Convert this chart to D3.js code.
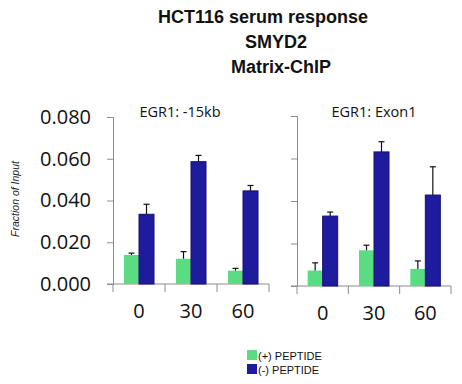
<!DOCTYPE html>
<html>
<head>
<meta charset="utf-8">
<script src="https://cdn.jsdelivr.net/npm/d3@7"></script>
<style>
  body { margin: 0; background: #fff; }
  svg { display: block; }
</style>
</head>
<body>
<svg id="chart" width="462" height="384"></svg>
<script>
const timepoints = ["0", "30", "60"];
const seriesNames = ["(+) PEPTIDE", "(-) PEPTIDE"];
const seriesColors = ["#5cdc82", "#1e1b9e"];
const yTicks = [0, 0.02, 0.04, 0.06, 0.08];

// EGR1: -15kb
const minus15Plus = [0.0139, 0.0121, 0.0064];
const minus15PlusErr = [0.0009, 0.0034, 0.0011];
const minus15Minus = [0.0334, 0.0586, 0.0446];
const minus15MinusErr = [0.0048, 0.0030, 0.0026];

// EGR1: Exon1
const exon1Plus = [0.0073, 0.0168, 0.0080];
const exon1PlusErr = [0.0036, 0.0024, 0.0038];
const exon1Minus = [0.0329, 0.0631, 0.0428];
const exon1MinusErr = [0.0019, 0.0048, 0.0133];

const panels = [
  { title: "EGR1: -15kb", titleX: 180, x0: 113, x1: 269, y0: 284, y1: 117, showLabels: true,
    values: [minus15Plus, minus15Minus], errs: [minus15PlusErr, minus15MinusErr] },
  { title: "EGR1: Exon1", titleX: 374, x0: 297, x1: 451, y0: 286, y1: 116, showLabels: false,
    values: [exon1Plus, exon1Minus], errs: [exon1PlusErr, exon1MinusErr] }
];

const svg = d3.select("#chart");
const axisColor = "#8c8c8c";

// titles
const titleLines = [
  { text: "HCT116 serum response", x: 263, y: 23 },
  { text: "SMYD2", x: 276, y: 48 },
  { text: "Matrix-ChIP", x: 281, y: 73 }
];
svg.selectAll("text.title")
  .data(titleLines)
  .join("text")
  .attr("class", "title")
  .attr("x", d => d.x)
  .attr("y", d => d.y)
  .attr("text-anchor", "middle")
  .attr("font-family", "Liberation Sans, Arial, sans-serif")
  .attr("font-weight", "bold")
  .attr("font-size", 18)
  .attr("fill", "#111")
  .text(d => d.text);

svg.append("text")
  .attr("transform", "translate(19,199) rotate(-90)")
  .attr("text-anchor", "middle")
  .attr("font-family", "Liberation Sans, Arial, sans-serif")
  .attr("font-style", "italic")
  .attr("font-size", 10.5)
  .attr("fill", "#222")
  .text("Fraction of Input");

panels.forEach(panel => {
  const g = svg.append("g");
  const y = d3.scaleLinear().domain([0, 0.08]).range([panel.y0, panel.y1]);
  const x = d3.scaleBand().domain(timepoints).range([panel.x0, panel.x1]).paddingInner(0).paddingOuter(0);
  const sub = d3.scaleBand().domain(d3.range(seriesNames.length))
    .range([x.bandwidth() / 2 - 15, x.bandwidth() / 2 + 15]);

  // y axis
  const yAxis = d3.axisLeft(y).tickValues(yTicks).tickSize(6).tickPadding(16)
    .tickFormat(d3.format(".3f"));
  const yg = g.append("g").attr("transform", `translate(${panel.x0},0)`).call(yAxis);
  yg.select(".domain").attr("stroke", axisColor);
  yg.selectAll(".tick line").attr("stroke", axisColor);
  yg.selectAll(".tick text")
    .attr("font-family", "Open Sans, sans-serif")
    .attr("font-size", 20)
    .attr("fill", "#111")
    .attr("visibility", panel.showLabels ? "visible" : "hidden");

  // x axis: ticks at category boundaries
  g.append("line")
    .attr("x1", panel.x0 - 6).attr("x2", panel.x1)
    .attr("y1", panel.y0).attr("y2", panel.y0)
    .attr("stroke", axisColor);
  const bounds = timepoints.map(t => x(t)).concat([panel.x1]);
  g.selectAll("line.xtick")
    .data(bounds)
    .join("line")
    .attr("class", "xtick")
    .attr("x1", d => d).attr("x2", d => d)
    .attr("y1", panel.y0).attr("y2", panel.y0 + 8)
    .attr("stroke", axisColor);
  g.selectAll("text.xlabel")
    .data(timepoints)
    .join("text")
    .attr("class", "xlabel")
    .attr("x", d => x(d) + x.bandwidth() / 2)
    .attr("y", panel.y0 + 34)
    .attr("text-anchor", "middle")
    .attr("font-family", "Open Sans, sans-serif")
    .attr("font-size", 20)
    .attr("fill", "#111")
    .text(d => d);

  // panel title
  g.append("text")
    .attr("x", panel.titleX)
    .attr("y", 117)
    .attr("text-anchor", "middle")
    .attr("font-family", "Open Sans, sans-serif")
    .attr("font-size", 14.5)
    .attr("fill", "#111")
    .text(panel.title);

  // bars + error bars
  seriesNames.forEach((name, si) => {
    const rows = timepoints.map((t, i) => ({ t, v: panel.values[si][i], e: panel.errs[si][i] }));
    g.selectAll(`rect.s${si}`)
      .data(rows)
      .join("rect")
      .attr("class", `s${si}`)
      .attr("x", d => x(d.t) + sub(si))
      .attr("width", sub.bandwidth())
      .attr("y", d => y(d.v))
      .attr("height", d => y(0) - y(d.v))
      .attr("fill", seriesColors[si])
      .attr("stroke", si === 1 ? "#12116e" : "none")
      .attr("stroke-width", 1);
    const cx = d => x(d.t) + sub(si) + sub.bandwidth() / 2;
    g.selectAll(`line.e${si}`)
      .data(rows)
      .join("line")
      .attr("class", `e${si}`)
      .attr("x1", cx).attr("x2", cx)
      .attr("y1", d => y(d.v)).attr("y2", d => y(d.v + d.e))
      .attr("stroke", "#111").attr("stroke-width", 1.2);
    g.selectAll(`line.c${si}`)
      .data(rows)
      .join("line")
      .attr("class", `c${si}`)
      .attr("x1", d => cx(d) - 3).attr("x2", d => cx(d) + 3)
      .attr("y1", d => y(d.v + d.e)).attr("y2", d => y(d.v + d.e))
      .attr("stroke", "#111").attr("stroke-width", 1.2);
  });
});

// legend
const legend = svg.append("g").attr("transform", "translate(247,350)");
const items = legend.selectAll("g")
  .data(seriesNames)
  .join("g")
  .attr("transform", (d, i) => `translate(0,${i * 14})`);
items.append("rect")
  .attr("width", 10).attr("height", 10)
  .attr("fill", (d, i) => seriesColors[i]);
items.append("text")
  .attr("x", 11).attr("y", 9.5)
  .attr("font-family", "Liberation Sans, Arial, sans-serif")
  .attr("font-size", 11)
  .attr("fill", "#111")
  .text(d => d);
</script>
</body>
</html>
